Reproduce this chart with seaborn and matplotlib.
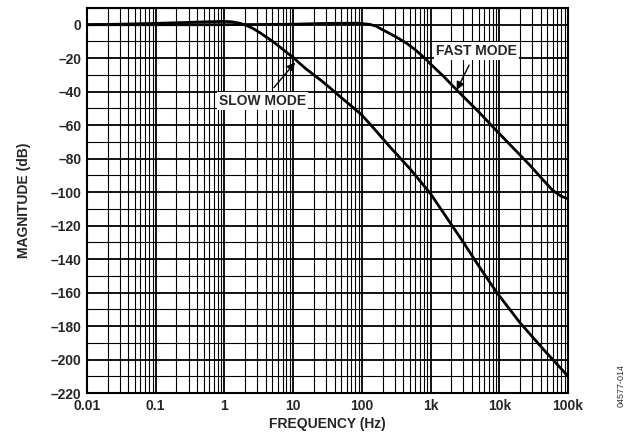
import matplotlib
matplotlib.use("Agg")
import matplotlib.pyplot as plt
from matplotlib.ticker import LogLocator, MultipleLocator, NullFormatter
import numpy as np
import pandas as pd
import seaborn as sns

# values
slow_freq = [0.01, 0.03, 0.1, 0.3, 0.6, 1.0, 1.3, 1.7, 2.1, 2.6, 3.3, 4.0, 5.1, 6.5, 8.0,
             10, 12, 15, 20, 25, 35, 50, 70, 100, 150, 250, 500, 1000, 1700, 3000, 5000,
             9200, 20000, 44000, 70000, 100000]
slow_db = [0.0, 0.3, 0.8, 1.4, 1.8, 2.0, 1.7, 0.8, -0.5, -2.2, -4.8, -7.2, -10.1, -13.5, -16.5,
           -19.5, -22.5, -26, -30, -33, -38, -43.5, -48.5, -54, -62, -72.5, -86, -101, -115,
           -130, -144, -160, -178, -194, -203, -210]

fast_freq = [0.01, 1, 10, 30, 90, 130, 160, 204, 300, 446, 600, 876, 1000, 1560, 2400,
             5000, 9200, 28000, 44000, 60000, 80000, 100000]
fast_db = [0.0, 0.0, 0.3, 0.8, 0.9, 0.2, -0.8, -3.2, -6.8, -11, -15, -21, -23.5, -31, -39,
           -52, -63.5, -84, -93, -99, -102.5, -104]

x_ticks = [0.01, 0.1, 1, 10, 100, 1000, 10000, 100000]
x_labels = ["0.01", "0.1", "1", "10", "100", "1k", "10k", "100k"]
y_ticks = list(range(-220, 1, 20))
y_labels = [str(v).replace("-", "\u2013") for v in y_ticks]

df = pd.concat([
    pd.DataFrame({"freq": slow_freq, "db": slow_db, "mode": "SLOW MODE"}),
    pd.DataFrame({"freq": fast_freq, "db": fast_db, "mode": "FAST MODE"}),
])

sns.set_style("white")
plt.rcParams["font.family"] = ["Liberation Sans", "DejaVu Sans"]

fig = plt.figure(figsize=(6.37, 4.36), dpi=100)
ax = fig.add_axes([0.1366, 0.0986, 0.7551, 0.8831])

sns.lineplot(data=df, x="freq", y="db", hue="mode", palette=["black", "black"],
             linewidth=2.0, legend=False, ax=ax, sort=False, estimator=None)

ax.set_xscale("log")
ax.set_xlim(0.01, 100000)
ax.set_ylim(-220, 10)
ax.set_xticks(x_ticks)
ax.set_xticklabels(x_labels, fontsize=10, fontweight="bold")
ax.xaxis.set_minor_locator(LogLocator(base=10, subs=np.arange(2, 10)))
ax.xaxis.set_minor_formatter(NullFormatter())
ax.set_yticks(y_ticks)
ax.set_yticklabels(y_labels, fontsize=10, fontweight="bold")
ax.yaxis.set_minor_locator(MultipleLocator(10))
ax.tick_params(which="both", length=0, pad=4)

ax.grid(which="major", color="black", linewidth=1.3)
ax.grid(which="minor", color="black", linewidth=0.8)
ax.set_axisbelow(True)
for s in ax.spines.values():
    s.set_visible(True)
    s.set_color("black")
    s.set_linewidth(1.5)

ax.set_xlabel("FREQUENCY (Hz)", fontsize=10, fontweight="bold", labelpad=3)
ax.set_ylabel("MAGNITUDE (dB)", fontsize=10, fontweight="bold", labelpad=14)

box = dict(facecolor="white", edgecolor="none", pad=1.5)
ax.annotate("SLOW MODE", xy=(10.7, -22.5), xytext=(3.6, -45.5), ha="center", va="center",
            fontsize=10, fontweight="bold", bbox=box,
            arrowprops=dict(arrowstyle="-|>", color="black", lw=1.0, shrinkA=4, shrinkB=0,
                            mutation_scale=12))
ax.annotate("FAST MODE", xy=(2400, -39), xytext=(4600, -15.7), ha="center", va="center",
            fontsize=10, fontweight="bold", bbox=box,
            arrowprops=dict(arrowstyle="-|>", color="black", lw=1.0, shrinkA=4, shrinkB=0,
                            mutation_scale=12))

fig.text(0.975, 0.115, "04577-014", rotation=90, fontsize=6.5, color="#333333",
         ha="center", va="center")

fig.savefig("out.png", dpi=100)
